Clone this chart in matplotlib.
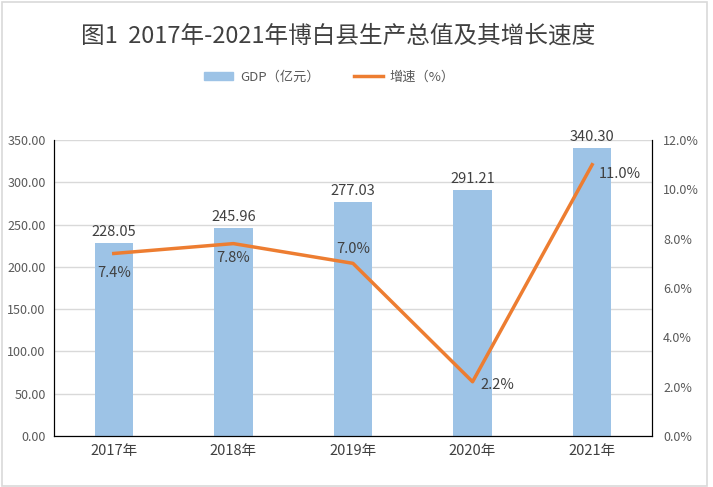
import numpy as np
import matplotlib
matplotlib.use('Agg')
import matplotlib.pyplot as plt
from matplotlib.patches import Patch, Rectangle
from matplotlib.lines import Line2D
from matplotlib.ticker import FuncFormatter

plt.rcParams['font.family'] = ['Noto Sans CJK SC', 'DejaVu Sans']

# date
years = ['2017年', '2018年', '2019年', '2020年', '2021年']
gdp = [228.05, 245.96, 277.03, 291.21, 340.30]
growth = [7.4, 7.8, 7.0, 2.2, 11.0]

# pozitii etichete procent (offset in puncte)
pct_offsets = [(0, -14), (0, -10), (0, 10), (18, -2), (20, -7)]

bar_color = '#9dc3e6'
line_color = '#ed7d31'
text_color = '#404040'
tick_color = '#595959'

fig = plt.figure(figsize=(7.13, 4.87), dpi=100)
ax = fig.add_axes([0.0757, 0.1047, 0.8387, 0.6078])
ax2 = ax.twinx()

x = np.arange(len(years))

# bare GDP
ax.bar(x, gdp, width=0.32, color=bar_color, zorder=2)
for xi, v in zip(x, gdp):
    ax.annotate('%.2f' % v, (xi, v), xytext=(0, 3), textcoords='offset points',
                ha='center', va='bottom', fontsize=10.5, color=text_color)

ax.set_ylim(0, 350)
ax.set_yticks(np.arange(0, 351, 50))
ax.yaxis.set_major_formatter(FuncFormatter(lambda v, p: '%.2f' % v))
ax.set_xlim(-0.5, len(years) - 0.5)
ax.set_xticks(x)
ax.set_xticklabels(years, fontsize=10.5, color=text_color)
ax.grid(axis='y', color='#d9d9d9', linewidth=1, zorder=0)
ax.set_axisbelow(True)

# linia de crestere
ax2.plot(x, growth, color=line_color, linewidth=2.5, zorder=3)
for xi, v, off in zip(x, growth, pct_offsets):
    ax2.annotate('%.1f%%' % v, (xi, v), xytext=off, textcoords='offset points',
                 ha='center', va='center', fontsize=10.5, color=text_color)
ax2.set_ylim(0, 12)
ax2.set_yticks(np.arange(0, 12.1, 2))
ax2.yaxis.set_major_formatter(FuncFormatter(lambda v, p: '%.1f%%' % v))

# axe
for a in (ax, ax2):
    a.spines['top'].set_visible(False)
    a.spines['left'].set_color('black')
    a.spines['right'].set_color('black')
    a.spines['bottom'].set_color('black')
    a.tick_params(length=0, labelsize=9, labelcolor=tick_color)
ax.tick_params(axis='x', labelsize=10.5, labelcolor=text_color, pad=6)
ax.tick_params(axis='y', pad=6)
ax2.tick_params(axis='y', pad=8)

# titlu
fig.text(0.474, 0.925, '图1  2017年-2021年博白县生产总值及其增长速度', ha='center', va='center',
         fontsize=17, color=text_color)

# legenda
handles = [Patch(color=bar_color, label='GDP（亿元）'),
           Line2D([0], [0], color=line_color, linewidth=2.5, label='增速（%）')]
fig.legend(handles=handles, loc='center', bbox_to_anchor=(0.462, 0.842), ncol=2,
           frameon=False, fontsize=9.5, labelcolor=tick_color, handlelength=2.2,
           handleheight=0.6, handletextpad=0.5, columnspacing=2.6)

# chenar
fig.patches.append(Rectangle((0.003, 0.003), 0.988, 0.992, transform=fig.transFigure,
                             fill=False, edgecolor='#d9d9d9', linewidth=1.2))

fig.savefig('out.png', dpi=100)
